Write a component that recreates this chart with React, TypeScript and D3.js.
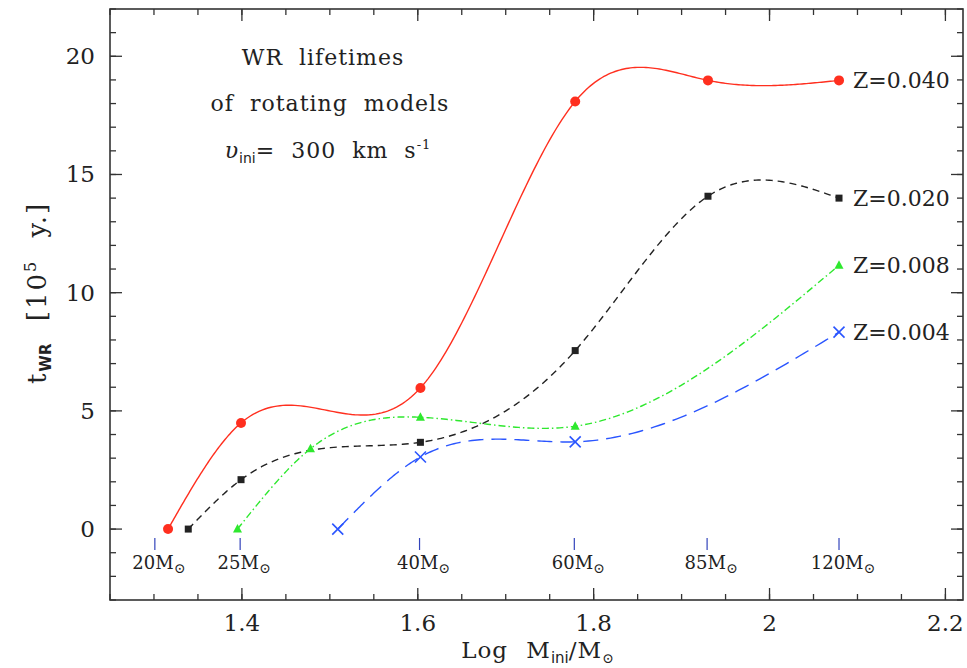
import React from 'react';
import * as d3 from 'd3';

// ---- data ----
const massLabels = ['20', '25', '40', '60', '85', '120'];
const massLogs = [1.301, 1.398, 1.602, 1.778, 1.929, 2.079];

const z040X = [1.316, 1.399, 1.603, 1.779, 1.930, 2.079];
const z040Y = [0, 4.49, 5.97, 18.09, 18.98, 18.98];
const z020X = [1.339, 1.399, 1.603, 1.779, 1.930, 2.079];
const z020Y = [0, 2.09, 3.67, 7.55, 14.08, 14.0];
const z008X = [1.395, 1.478, 1.603, 1.779, 2.079];
const z008Y = [0, 3.40, 4.73, 4.35, 11.16];
const z004X = [1.509, 1.603, 1.779, 2.079];
const z004Y = [0, 3.05, 3.69, 8.33];

const seriesNames = ['Z=0.040', 'Z=0.020', 'Z=0.008', 'Z=0.004'];

const xMajorTicks = [1.4, 1.6, 1.8, 2.0, 2.2];
const xTickLabels = ['1.4', '1.6', '1.8', '2', '2.2'];
const yMajorTicks = [0, 5, 10, 15, 20];
const yTickLabels = ['0', '5', '10', '15', '20'];

const titleLines = ['WR lifetimes', 'of rotating models'];

// ---- layout ----
const W = 967, H = 668;
const L = 110, R = 963, T = 9, B = 600;
const FONT = "'DejaVu Serif', serif";

const x = d3.scaleLinear().domain([1.25, 2.22]).range([L, R]);
const y = d3.scaleLinear().domain([-3, 22]).range([B, T]);

function naturalSpline(xs: number[], ys: number[], n = 60): [number, number][] {
  const k = xs.length;
  if (k < 3) return xs.map((v, i) => [v, ys[i]] as [number, number]);
  const h = xs.slice(1).map((v, i) => v - xs[i]);
  const a = new Array(k).fill(0), b = new Array(k).fill(0), c = new Array(k).fill(0), d = new Array(k).fill(0);
  b[0] = 1; b[k - 1] = 1;
  for (let i = 1; i < k - 1; i++) {
    a[i] = h[i - 1]; b[i] = 2 * (h[i - 1] + h[i]); c[i] = h[i];
    d[i] = 6 * ((ys[i + 1] - ys[i]) / h[i] - (ys[i] - ys[i - 1]) / h[i - 1]);
  }
  const cp = new Array(k).fill(0), dp = new Array(k).fill(0);
  cp[0] = c[0] / b[0]; dp[0] = d[0] / b[0];
  for (let i = 1; i < k; i++) {
    const m = b[i] - a[i] * cp[i - 1];
    cp[i] = c[i] / m; dp[i] = (d[i] - a[i] * dp[i - 1]) / m;
  }
  const M = new Array(k).fill(0);
  M[k - 1] = dp[k - 1];
  for (let i = k - 2; i >= 0; i--) M[i] = dp[i] - cp[i] * M[i + 1];
  const pts: [number, number][] = [];
  for (let i = 0; i < k - 1; i++) {
    const x0 = xs[i], x1 = xs[i + 1], hh = h[i];
    for (let j = 0; j < n; j++) {
      const xv = x0 + (hh * j) / n;
      const yv = M[i] * Math.pow(x1 - xv, 3) / (6 * hh) + M[i + 1] * Math.pow(xv - x0, 3) / (6 * hh)
        + (ys[i] / hh - M[i] * hh / 6) * (x1 - xv) + (ys[i + 1] / hh - M[i + 1] * hh / 6) * (xv - x0);
      pts.push([xv, yv]);
    }
  }
  pts.push([xs[k - 1], ys[k - 1]]);
  return pts;
}

const lineGen = d3.line<[number, number]>().x(p => x(p[0])).y(p => y(p[1]));

type Series = { xs: number[]; ys: number[]; color: string; dash: string; marker: string; name: string };
const series: Series[] = [
  { xs: z040X, ys: z040Y, color: '#ff2f1f', dash: '', marker: 'circle', name: seriesNames[0] },
  { xs: z020X, ys: z020Y, color: '#222222', dash: '7,5', marker: 'square', name: seriesNames[1] },
  { xs: z008X, ys: z008Y, color: '#2ee82e', dash: '7,3,1.5,3', marker: 'triangle', name: seriesNames[2] },
  { xs: z004X, ys: z004Y, color: '#2a55ff', dash: '15,8', marker: 'cross', name: seriesNames[3] },
];

function Marker({ cx, cy, kind, color }: { cx: number; cy: number; kind: string; color: string }) {
  if (kind === 'circle') return <circle cx={cx} cy={cy} r={5} fill={color} />;
  if (kind === 'square') return <rect x={cx - 3.5} y={cy - 3.5} width={7} height={7} fill={color} />;
  if (kind === 'triangle') return <path d={`M${cx},${cy - 5}L${cx + 4.5},${cy + 3.5}L${cx - 4.5},${cy + 3.5}Z`} fill={color} />;
  return (
    <g stroke={color} strokeWidth={1.6}>
      <line x1={cx - 5.5} y1={cy - 5.5} x2={cx + 5.5} y2={cy + 5.5} />
      <line x1={cx - 5.5} y1={cy + 5.5} x2={cx + 5.5} y2={cy - 5.5} />
    </g>
  );
}

export default function App() {
  const xMinor = d3.range(1.25, 2.2201, 0.05);
  const yMinor = d3.range(-3, 23, 1);
  const axisColor = '#333';
  return (
    <svg width={W} height={H} style={{ position: 'absolute', left: 0, top: 0, background: '#fff' }} fontFamily={FONT}>
      <rect x={0} y={0} width={W} height={H} fill="#fff" />
      {/* frame */}
      <rect x={L} y={T} width={R - L} height={B - T} fill="none" stroke={axisColor} strokeWidth={1.6} />
      {/* x ticks */}
      {xMinor.map((v, i) => (
        <g key={'xm' + i} stroke={axisColor} strokeWidth={1.3}>
          <line x1={x(v)} x2={x(v)} y1={B} y2={B - 6} />
          <line x1={x(v)} x2={x(v)} y1={T} y2={T + 6} />
        </g>
      ))}
      {xMajorTicks.map((v, i) => (
        <g key={'xM' + i}>
          <line x1={x(v)} x2={x(v)} y1={B} y2={B - 12} stroke={axisColor} strokeWidth={1.3} />
          <line x1={x(v)} x2={x(v)} y1={T} y2={T + 12} stroke={axisColor} strokeWidth={1.3} />
          <text x={x(v)} y={631} textAnchor="middle" fontSize={23} fill="#222">{xTickLabels[i]}</text>
        </g>
      ))}
      {/* y ticks */}
      {yMinor.map((v, i) => (
        <g key={'ym' + i} stroke={axisColor} strokeWidth={1.3}>
          <line x1={L} x2={L + 6} y1={y(v)} y2={y(v)} />
          <line x1={R} x2={R - 6} y1={y(v)} y2={y(v)} />
        </g>
      ))}
      {yMajorTicks.map((v, i) => (
        <g key={'yM' + i}>
          <line x1={L} x2={L + 12} y1={y(v)} y2={y(v)} stroke={axisColor} strokeWidth={1.3} />
          <line x1={R} x2={R - 12} y1={y(v)} y2={y(v)} stroke={axisColor} strokeWidth={1.3} />
          <text x={95} y={y(v) + 8} textAnchor="end" fontSize={23} fill="#222">{yTickLabels[i]}</text>
        </g>
      ))}
      {/* mass markers */}
      {massLogs.map((v, i) => (
        <g key={'mass' + i}>
          <line x1={x(v)} x2={x(v)} y1={538} y2={550} stroke="#3344bb" strokeWidth={1.2} />
          <text x={x(v) + 4} y={569} textAnchor="middle" fontSize={18} fill="#222">
            {massLabels[i]}M<tspan fontSize={14} dy={4}>⊙</tspan>
          </text>
        </g>
      ))}
      {/* curves */}
      {series.map((s, i) => (
        <g key={'s' + i}>
          <path d={lineGen(naturalSpline(s.xs, s.ys)) || ''} fill="none" stroke={s.color} strokeWidth={1.4}
            strokeDasharray={s.dash || undefined} />
          {s.xs.map((v, j) => (
            <Marker key={j} cx={x(v)} cy={y(s.ys[j])} kind={s.marker} color={s.color} />
          ))}
          <text x={x(s.xs[s.xs.length - 1]) + 14} y={y(s.ys[s.ys.length - 1]) + 8} fontSize={22} fill="#222">{s.name}</text>
        </g>
      ))}
      {/* title */}
      <g fontSize={22} fill="#222" letterSpacing={1} wordSpacing={8}>
        <text x={323} y={65} textAnchor="middle">{titleLines[0]}</text>
        <text x={330} y={111} textAnchor="middle">{titleLines[1]}</text>
        <text x={328} y={158} textAnchor="middle">
          <tspan fontStyle="italic">υ</tspan><tspan fontSize={14} dy={5} fontFamily="'DejaVu Sans', sans-serif" letterSpacing={0}>ini</tspan><tspan dy={-5}>= 300 km s</tspan><tspan fontSize={13} dy={-9}>-1</tspan>
        </text>
      </g>
      {/* axis labels */}
      <text x={538} y={658} textAnchor="middle" fontSize={23} fill="#222" letterSpacing={1} wordSpacing={10}>
        Log M<tspan fontSize={15} dy={5} fontFamily="'DejaVu Sans', sans-serif" letterSpacing={0}>ini</tspan><tspan dy={-5}>/M</tspan><tspan fontSize={14} dy={5}>⊙</tspan>
      </text>
      <text transform="translate(46,293) rotate(-90)" textAnchor="middle" fontSize={26} fill="#222" letterSpacing={2} wordSpacing={12}>
        t<tspan fontSize={15} dy={5} fontFamily="'DejaVu Sans', sans-serif" fontWeight="bold" letterSpacing={0}>WR</tspan><tspan dy={-5}> [10</tspan><tspan fontSize={16} dy={-10}>5</tspan><tspan dy={10}> y.]</tspan>
      </text>
    </svg>
  );
}
